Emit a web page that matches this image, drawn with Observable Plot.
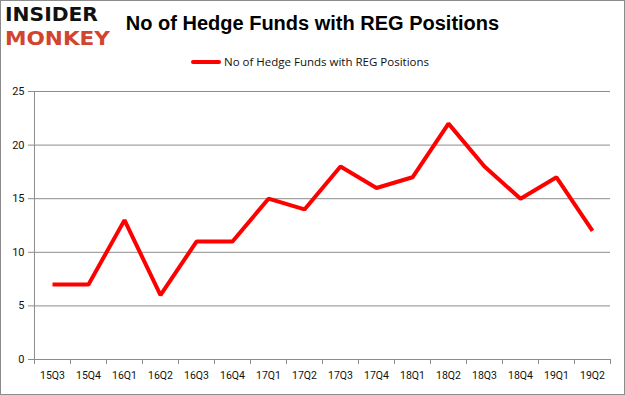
<!DOCTYPE html>
<html>
<head>
<meta charset="utf-8">
<script src="https://cdn.jsdelivr.net/npm/d3@7"></script>
<script src="https://cdn.jsdelivr.net/npm/@observablehq/plot@0.6"></script>
<style>
  html, body { margin: 0; padding: 0; background: #fff; }
  #wrap { position: relative; width: 625px; height: 395px; overflow: hidden; font-family: Roboto, "Liberation Sans", sans-serif; }
  #frame { position: absolute; left: 0; top: 0; width: 623px; height: 393px; border: 1px solid #8c8c8c; pointer-events: none; }
  .logo { position: absolute; left: 5px; font-family: "DejaVu Sans", sans-serif; font-weight: bold; font-size: 20px; line-height: 1; white-space: nowrap; transform-origin: left top; }
  #logoA { top: 4px; color: #111; }
  #logoB { top: 27.5px; color: #d24430; }
  #title { position: absolute; left: 0; width: 625px; top: 13px; text-align: center; font-family: "Liberation Sans", sans-serif; font-weight: bold; font-size: 20px; line-height: 1; color: #000; white-space: nowrap; }
  #legend { position: absolute; top: 55px; left: 191px; font-size: 11.5px; line-height: 14px; color: #111; font-family: "Open Sans", sans-serif; display: flex; align-items: center; white-space: nowrap; }
  #legend .sw { display: inline-block; width: 30px; height: 4px; background: #ff0000; border-radius: 2px; margin-right: 3px; }
  #chart { position: absolute; left: 0; top: 0; }
</style>
</head>
<body>
<div id="wrap">
  <div id="chart"></div>
  <div class="logo" id="logoA">INSIDER</div>
  <div class="logo" id="logoB">MONKEY</div>
  <div id="title">No of Hedge Funds with REG Positions</div>
  <div id="legend"><span class="sw"></span><span>No of Hedge Funds with REG Positions</span></div>
  <div id="frame"></div>
</div>
<script>
const quarters = ["15Q3","15Q4","16Q1","16Q2","16Q3","16Q4","17Q1","17Q2","17Q3","17Q4","18Q1","18Q2","18Q3","18Q4","19Q1","19Q2"];
const hedgeFunds = [7,7,13,6,11,11,15,14,18,16,17,22,18,15,17,12];
const yTicks = [0,5,10,15,20,25];

const data = quarters.map((q, i) => ({q, v: hedgeFunds[i]}));

const W = 625, H = 395;
const mL = 33, mR = 15, mT = 91, mB = 36;
const step = (W - mL - mR) / quarters.length;

const plot = Plot.plot({
  width: W,
  height: H,
  marginLeft: mL,
  marginRight: mR,
  marginTop: mT,
  marginBottom: mB,
  style: {fontFamily: "Roboto, 'Liberation Sans', sans-serif", fontSize: "10.5px", color: "#111", background: "transparent"},
  x: {type: "point", domain: quarters, padding: 0.5, label: null},
  y: {domain: [0, 25], label: null},
  marks: [
    Plot.ruleY(yTicks.filter(d => d > 0), {stroke: "#8c8c8c", strokeWidth: 1}),
    Plot.ruleY([0], {stroke: "#8c8c8c", strokeWidth: 1}),
    Plot.ruleX([0], {x: () => quarters[0], dx: -step / 2, stroke: "#8c8c8c", y1: 0, y2: 25}),
    Plot.ruleX(quarters, {x: d => d, dx: -step / 2, y1: 0, y2: 0, insetBottom: -5, stroke: "#8c8c8c"}),
    Plot.ruleX([quarters[quarters.length - 1]], {x: d => d, dx: step / 2, y1: 0, y2: 0, insetBottom: -5, stroke: "#8c8c8c"}),
    Plot.axisY({ticks: yTicks, tickSize: 5, tickPadding: 4, stroke: "#8c8c8c", label: null, fill: "#111", fontSize: 11}),
    Plot.axisX({tickSize: 0, tickPadding: 12, label: null, fill: "#111"}),
    Plot.line(data, {x: "q", y: "v", stroke: "#ff0000", strokeWidth: 4, strokeLinejoin: "miter", strokeLinecap: "butt"})
  ]
});
document.getElementById("chart").appendChild(plot);

function fitWidth(el, target) {
  const w = el.getBoundingClientRect().width;
  if (w > 0) el.style.transform = `scaleX(${target / w})`;
}
const la = document.getElementById("logoA"), lb = document.getElementById("logoB");
la.style.display = lb.style.display = "inline-block";
fitWidth(la, 93);
fitWidth(lb, 105);
</script>
</body>
</html>
